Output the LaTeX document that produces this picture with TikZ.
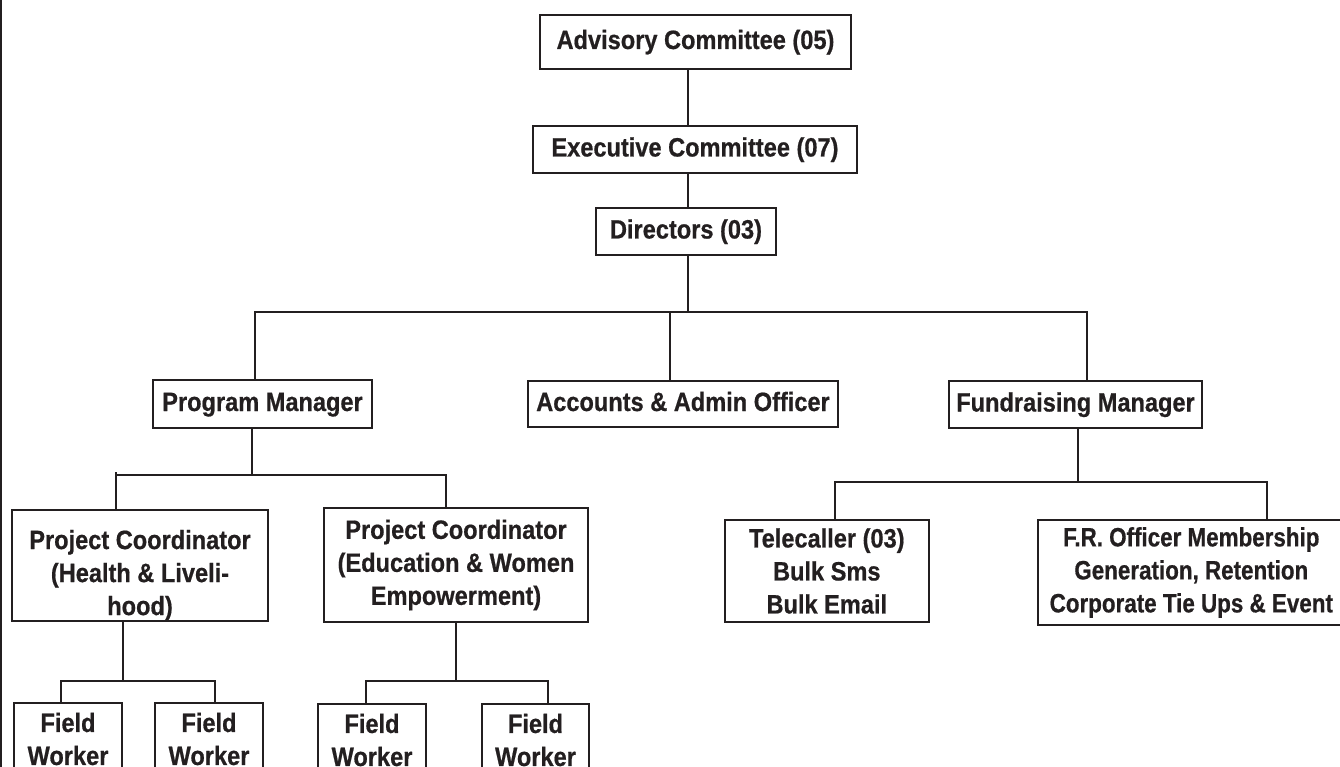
\documentclass[tikz,border=0pt]{standalone}
\usepackage{fontspec}
\newfontfamily\chartfont{Liberation Sans}[FakeStretch=0.89, BoldFeatures={FakeBold=0.6}]
\newfontfamily\narrowfont{Liberation Sans}[FakeStretch=0.845, BoldFeatures={FakeBold=0.6}]
\definecolor{ink}{HTML}{231F20}
\begin{document}
\begin{tikzpicture}[x=1pt,y=-1pt,
  box/.style={draw=ink, line width=2pt, text=ink, inner sep=0pt, align=center,
    font=\chartfont\bfseries\fontsize{26.5}{33}\selectfont},
  onebox/.style={box, text height=19pt, text depth=5pt},
  link/.style={draw=ink, line width=2pt}]
\useasboundingbox (0,0) rectangle (1340,767);
\fill[white] (0,0) rectangle (1340,767);
\draw[ink, line width=1.8pt] (1,0) -- (1,767);

% boxes
\node[onebox, minimum width=311pt, minimum height=54pt] (adv) at (695.5,42) {Advisory Committee (05)};
\node[onebox, minimum width=324pt, minimum height=47pt] (exe) at (695,149.5) {Executive Committee (07)};
\node[onebox, minimum width=180pt, minimum height=47pt] (dir) at (686,231.5) {Directors (03)};
\node[onebox, minimum width=219pt, minimum height=48pt] (pm) at (262.5,404) {Program Manager};
\node[onebox, minimum width=310pt, minimum height=46pt] (acc) at (683,404) {Accounts \& Admin Officer};
\node[onebox, minimum width=253pt, minimum height=47pt] (fm) at (1075.5,404.5) {Fundraising Manager};
\node[box, minimum width=255.5pt, minimum height=111pt] (pc1) at (140,565.5) {\rule{0pt}{38.6pt}Project Coordinator\\(Health \& Liveli-\\hood)};
\node[box, minimum width=264pt, minimum height=113.5pt] (pc2) at (456,565) {Project Coordinator\\(Education \& Women\\Empowerment)};
\node[box, minimum width=203.6pt, minimum height=102pt] (tel) at (826.8,571) {Telecaller (03)\\Bulk Sms\\Bulk Email};
\node[box, minimum width=307.4pt, minimum height=105pt, font=\narrowfont\bfseries\fontsize{26.5}{33}\selectfont] (fro) at (1191.3,572.5) {F.R. Officer Membership\\Generation, Retention\\Corporate Tie Ups \& Event};
\node[box, minimum width=108pt, minimum height=72pt] (fw1) at (68,739) {Field\\Worker};
\node[box, minimum width=108pt, minimum height=72pt] (fw2) at (209,739) {Field\\Worker};
\node[box, minimum width=107.5pt, minimum height=72pt] (fw3) at (372,740) {Field\\Worker};
\node[box, minimum width=107.6pt, minimum height=72pt] (fw4) at (535.5,740) {Field\\Worker};

% top spine
\coordinate (sp) at (688,0);
\draw[link] (adv.south -| sp) -- (exe.north -| sp);
\draw[link] (exe.south -| sp) -- (dir.north -| sp);

% level 2
\coordinate (j0) at (688,312);
\coordinate (jL) at (255,312);
\coordinate (jM) at (670,312);
\coordinate (jR) at (1087,312);
\draw[link] (dir.south -| j0) -- (j0);
\draw[link] (jL |- pm.north) -- (jL) -- (jR) -- (jR |- fm.north);
\draw[link] (jM) -- (jM |- acc.north);

% program manager group
\coordinate (k0) at (252.3,475);
\coordinate (kL) at (116,475);
\coordinate (kR) at (445.7,475);
\draw[link] (pm.south -| k0) -- (k0);
\draw[link] (kL |- pc1.north) -- (kL) -- (kR) -- (kR |- pc2.north);
\draw[link] (kL) -- ([yshift=3pt]kL);

% fundraising group
\coordinate (m0) at (1077.5,481.7);
\coordinate (mL) at (834.7,481.7);
\coordinate (mR) at (1267,481.7);
\draw[link] (fm.south -| m0) -- (m0);
\draw[link] (mL |- tel.north) -- (mL) -- (mR) -- (mR |- fro.north);

% coordinator 1 group
\coordinate (p0) at (122.5,681);
\coordinate (pL) at (61.4,681);
\coordinate (pR) at (215,681);
\draw[link] (pc1.south -| p0) -- (p0);
\draw[link] (pL |- fw1.north) -- (pL) -- (pR) -- (pR |- fw2.north);

% coordinator 2 group
\coordinate (q0) at (455.7,681);
\coordinate (qL) at (365.7,681);
\coordinate (qR) at (547.7,681);
\draw[link] (pc2.south -| q0) -- (q0);
\draw[link] (qL |- fw3.north) -- (qL) -- (qR) -- (qR |- fw4.north);
\end{tikzpicture}
\end{document}
